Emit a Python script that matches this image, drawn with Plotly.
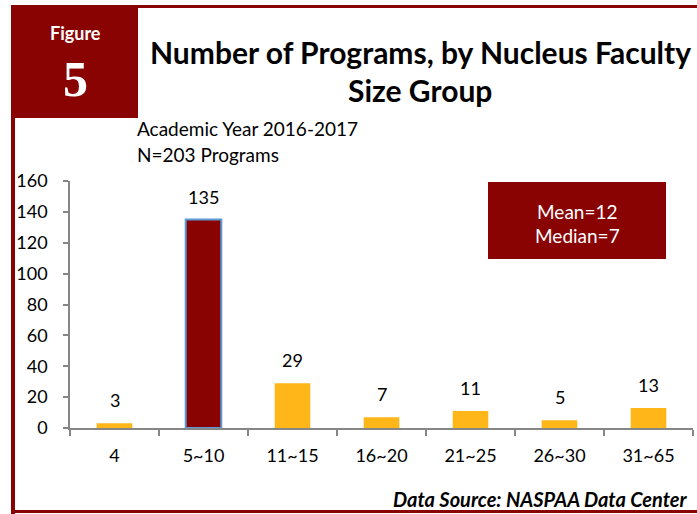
import plotly.graph_objects as go

categories = ["4", "5~10", "11~15", "16~20", "21~25", "26~30", "31~65"]
programs = [3, 135, 29, 7, 11, 5, 13]
y_ticks = [0, 20, 40, 60, 80, 100, 120, 140, 160]

W, H = 697, 514
RED = "#8A0303"
ORANGE = "#FFB619"
FONT = "Lato"

def px(x):
    return x / W

def py(y):
    return 1 - y / H

colors = [RED if c == "5~10" else ORANGE for c in categories]
line_colors = ["#5B9BD5" if c == "5~10" else ORANGE for c in categories]
line_widths = [2 if c == "5~10" else 0 for c in categories]

fig = go.Figure()
fig.add_trace(go.Bar(
    x=categories, y=programs, width=0.4,
    marker=dict(color=colors, line=dict(color=line_colors, width=line_widths)),
    hoverinfo="x+y",
))

annotations = []
for i, v in enumerate(programs):
    annotations.append(dict(x=i, y=v, xref="x", yref="y", text=str(v), showarrow=False,
                            yanchor="bottom", yshift=10,
                            font=dict(family=FONT, size=18, color="black")))

annotations += [
    dict(x=px(75), y=py(33), xref="paper", yref="paper", text="<b>Figure</b>", showarrow=False,
         font=dict(family=FONT, size=18, color="white"), xanchor="center", yanchor="middle"),
    dict(x=px(75), y=py(79), xref="paper", yref="paper", text="<b>5</b>", showarrow=False,
         font=dict(family="Liberation Serif", size=50, color="white"), xanchor="center", yanchor="middle"),
    dict(x=px(420), y=py(52), xref="paper", yref="paper", text="<b>Number of Programs, by Nucleus Faculty</b>",
         showarrow=False, font=dict(family=FONT, size=30, color="black"), xanchor="center", yanchor="middle"),
    dict(x=px(420), y=py(90), xref="paper", yref="paper", text="<b>Size Group</b>",
         showarrow=False, font=dict(family=FONT, size=30, color="black"), xanchor="center", yanchor="middle"),
    dict(x=px(135), y=py(128), xref="paper", yref="paper", text="Academic Year 2016-2017",
         showarrow=False, font=dict(family=FONT, size=19, color="black"), xanchor="left", yanchor="middle"),
    dict(x=px(135), y=py(154), xref="paper", yref="paper", text="N=203 Programs",
         showarrow=False, font=dict(family=FONT, size=19, color="black"), xanchor="left", yanchor="middle"),
    dict(x=px(577), y=py(211), xref="paper", yref="paper", text="Mean=12",
         showarrow=False, font=dict(family=FONT, size=19, color="white"), xanchor="center", yanchor="middle"),
    dict(x=px(577), y=py(236), xref="paper", yref="paper", text="Median=7",
         showarrow=False, font=dict(family=FONT, size=19, color="white"), xanchor="center", yanchor="middle"),
    dict(x=px(690), y=py(499), xref="paper", yref="paper", text="<b><i>Data Source: NASPAA Data Center</i></b>",
         showarrow=False, font=dict(family=FONT, size=20, color="black"), xanchor="right", yanchor="middle"),
]

def rect(x0, y0, x1, y1, color):
    return dict(type="rect", xref="paper", yref="paper", x0=px(x0), x1=px(x1), y0=py(y1), y1=py(y0),
                fillcolor=color, line=dict(width=0), layer="below")

shapes = [
    rect(11, 5, 697, 8, RED),
    rect(11, 5, 15, 514, RED),
    rect(11, 510, 697, 513, RED),
    rect(11, 5, 138, 118, RED),
    rect(488, 182, 666, 259, RED),
]

fig.update_layout(
    width=W, height=H, margin=dict(l=0, r=0, t=0, b=0, pad=0, autoexpand=False),
    paper_bgcolor="white", plot_bgcolor="white",
    showlegend=False, bargap=0.6,
    annotations=annotations, shapes=shapes,
    font=dict(family=FONT, size=18, color="black"),
    xaxis=dict(type="category", domain=[px(70), px(693)], showline=True, linecolor="#868686", linewidth=1.5,
               ticks="outside", tickson="boundaries", ticklen=6, tickcolor="#868686", tickwidth=1.5,
               showgrid=False, tickfont=dict(family=FONT, size=18, color="black"), ticklabelstandoff=11),
    yaxis=dict(domain=[py(428), py(181)], range=[0, 160], tickvals=y_ticks, showline=True,
               linecolor="#868686", linewidth=1.5, ticks="outside", ticklen=5, tickcolor="#868686",
               tickwidth=1.5, showgrid=False, zeroline=False,
               tickfont=dict(family=FONT, size=18, color="black"), ticklabelstandoff=12),
)

fig.write_html("out.html", config={"displayModeBar": False},
               post_script="document.body.style.margin='0';")
